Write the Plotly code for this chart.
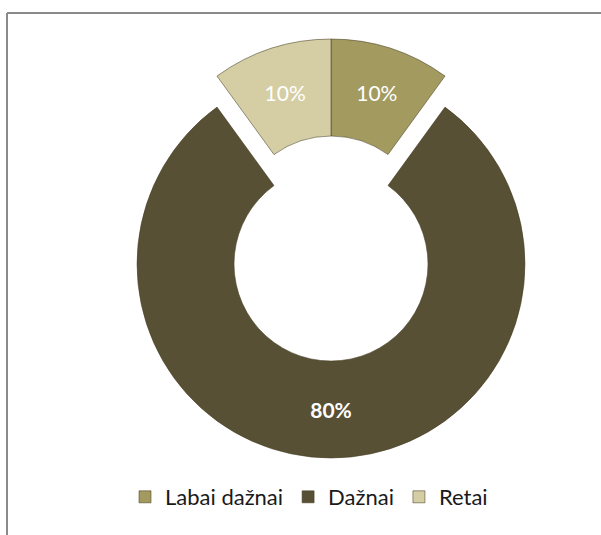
import plotly.graph_objects as go

# Share of answers by frequency
labels = ["Labai dažnai", "Dažnai", "Retai"]
values = [10, 80, 10]
colors = ["#a39a60", "#585034", "#d5cea4"]

W, H = 601, 535

fig = go.Figure(
    go.Pie(
        labels=labels,
        values=values,
        sort=False,
        direction="clockwise",
        rotation=0,
        hole=0.5,
        pull=[0, 0.16, 0],
        marker=dict(colors=colors, line=dict(color="rgba(70,62,35,0.55)", width=1)),
        texttemplate=["%{percent:.0%}", "<b>%{percent:.0%}</b>", "%{percent:.0%}"],
        textposition="inside",
        insidetextorientation="horizontal",
        textfont=dict(family="Lato", size=21, color="#ffffff"),
        hoverinfo="label+percent",
        domain=dict(x=[106 / W, 556 / W], y=[1 - 458 / H, 1 - 8 / H]),
    )
)

# Chart-area frame: top and left edges
frame = dict(type="line", xref="paper", yref="paper", line=dict(color="#8a8a8a", width=2))
fig.add_shape(**frame, x0=7 / W, x1=7 / W, y0=0, y1=1 - 13 / H)
fig.add_shape(**frame, x0=7 / W, x1=1, y0=1 - 13 / H, y1=1 - 13 / H)

fig.update_layout(
    width=W,
    height=H,
    margin=dict(l=0, r=0, t=0, b=0),
    paper_bgcolor="#ffffff",
    plot_bgcolor="#ffffff",
    showlegend=True,
    legend=dict(
        orientation="h",
        x=309 / W,
        xanchor="center",
        y=1 - 497 / H,
        yanchor="middle",
        font=dict(family="Lato", size=22, color="#1a1a1a"),
        itemwidth=30,
        tracegroupgap=0,
        bgcolor="rgba(0,0,0,0)",
    ),
)

fig.write_html("out.html")
